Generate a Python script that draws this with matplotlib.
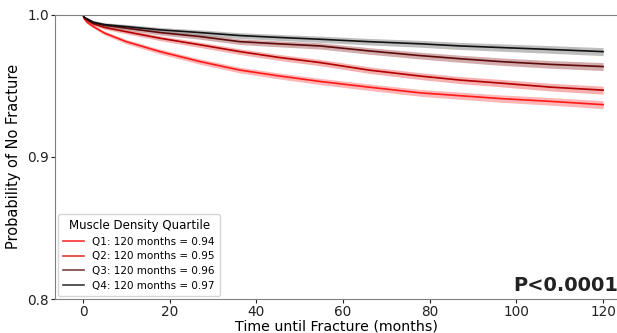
import numpy as np
import matplotlib
matplotlib.use('Agg')
import matplotlib.pyplot as plt

# months
months = [0, 0.3, 1, 2.4, 5, 10, 17.8, 27, 36.2, 45, 54.7, 66, 77.8, 87, 96.2, 108, 120]

# survival estimates
q1 = [1.0, 0.997, 0.9945, 0.9916, 0.987, 0.981, 0.974, 0.967, 0.961, 0.957, 0.953, 0.949, 0.945, 0.943, 0.941, 0.939, 0.9367]
q2 = [1.0, 0.998, 0.996, 0.9935, 0.991, 0.988, 0.9834, 0.9788, 0.974, 0.970, 0.9663, 0.961, 0.9568, 0.954, 0.9519, 0.949, 0.9469]
q3 = [1.0, 0.998, 0.9965, 0.994, 0.9925, 0.9905, 0.9874, 0.9846, 0.981, 0.9795, 0.978, 0.9745, 0.9712, 0.969, 0.967, 0.965, 0.9635]
q4 = [1.0, 0.998, 0.997, 0.9947, 0.993, 0.9916, 0.9893, 0.9874, 0.9853, 0.984, 0.9827, 0.981, 0.9795, 0.978, 0.9769, 0.9755, 0.974]

# half width of the confidence band
ci = [0.0, 0.0006, 0.0009, 0.0011, 0.0013, 0.0015, 0.0017, 0.0019, 0.002, 0.0021, 0.0022, 0.0023, 0.0024, 0.0025, 0.0026, 0.0027, 0.0028]

labels = ['Q1: 120 months = 0.94', 'Q2: 120 months = 0.95',
          'Q3: 120 months = 0.96', 'Q4: 120 months = 0.97']
series = [q1, q2, q3, q4]
line_colors = ['#ff1a1a', '#b00000', '#5e0a0a', '#111111']
band_colors = ['#ff7a7a', '#f07070', '#b06a6a', '#8a8a8a']
legend_colors = ['#ff3030', '#e03a30', '#7a4040', '#3a3a3a']

fig = plt.figure(figsize=(6.17, 3.33), dpi=100)
ax = fig.add_axes([0.0891, 0.102, 0.9109, 0.854])

t = np.array(months)
w = np.array(ci)
for vals, lab, lc, bc in zip(series, labels, line_colors, band_colors):
    v = np.array(vals)
    ax.fill_between(t, v - w, v + w, color=bc, alpha=0.55, linewidth=0)
    ax.plot(t, v, color=lc, linewidth=1.2, label=lab)

ax.set_xlim(-6.46, 123.2)
ax.set_ylim(0.8, 1.0)
ax.set_xticks([0, 20, 40, 60, 80, 100, 120])
ax.set_yticks([0.8, 0.9, 1.0])
ax.tick_params(labelsize=9.8, colors='#222222', length=3, pad=1.5)
for s in ['left', 'bottom', 'top']:
    ax.spines[s].set_color('#808080')
ax.spines['right'].set_visible(False)

ax.set_xlabel('Time until Fracture (months)', fontsize=10.2, labelpad=0)
ax.set_ylabel('Probability of No Fracture', fontsize=10.5)

leg = ax.legend(title='Muscle Density Quartile', loc='lower left', fontsize=7.5,
                title_fontsize=8.5, frameon=True, borderaxespad=0.3,
                borderpad=0.5, handlelength=2.0, labelspacing=0.45)
for h, c in zip(leg.get_lines(), legend_colors):
    h.set_color(c)

ax.text(123.4, 0.8025, 'P<0.0001', fontsize=14, fontweight='bold',
        ha='right', va='bottom', color='#222222')

fig.savefig('out.png', dpi=100)
